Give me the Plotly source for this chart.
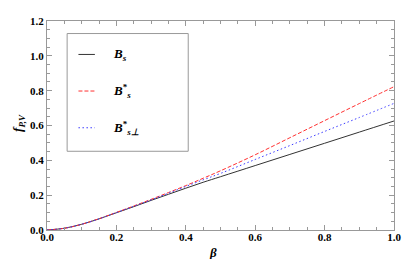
import plotly.graph_objects as go

beta = [0.0, 0.05, 0.1, 0.15, 0.2, 0.25, 0.3, 0.35, 0.4, 0.45, 0.5, 0.6, 0.7, 0.8, 0.9, 1.0]
f_Bs = [0.0, 0.010, 0.033, 0.064, 0.099, 0.134, 0.170, 0.205, 0.240, 0.274, 0.306, 0.370, 0.434, 0.498, 0.562, 0.626]
f_Bs_star = [0.0, 0.010, 0.033, 0.065, 0.101, 0.138, 0.176, 0.215, 0.255, 0.297, 0.340, 0.432, 0.530, 0.628, 0.726, 0.823]
f_Bs_perp = [0.0, 0.010, 0.033, 0.064, 0.100, 0.136, 0.173, 0.211, 0.250, 0.288, 0.325, 0.405, 0.485, 0.566, 0.646, 0.727]

x_ticks = [0.0, 0.2, 0.4, 0.6, 0.8, 1.0]
y_ticks = [0.0, 0.2, 0.4, 0.6, 0.8, 1.0, 1.2]
legend_names = ["<i>B<sub>s</sub></i>", "<i>B</i><sup>*</sup><i><sub>s</sub></i>", "<i>B</i><sup>*</sup><i><sub>s\u22a5</sub></i>"]

SERIF = "Liberation Serif, Times New Roman, serif"
colors = ["#333333", "#ff3030", "#3a3aff"]
dashes = ["solid", "4px,2px", "1.5px,2.5px"]
series = [f_Bs, f_Bs_star, f_Bs_perp]

fig = go.Figure()
for ys, c, d in zip(series, colors, dashes):
    fig.add_trace(go.Scatter(x=beta, y=ys, mode="lines", line=dict(color=c, width=1, dash=d, shape="spline"),
                             showlegend=False, hoverinfo="skip"))

# manual legend
fig.add_shape(type="rect", xref="x", yref="y", x0=0.058, x1=0.407, y0=0.452, y1=1.128,
              line=dict(color="#999999", width=1), fillcolor="white", layer="above")
leg_y = [1.008, 0.798, 0.587]
for ly, c, d, name in zip(leg_y, colors, dashes, legend_names):
    fig.add_shape(type="line", xref="x", yref="y", x0=0.0906, x1=0.138, y0=ly, y1=ly,
                  line=dict(color=c, width=1, dash=d), layer="above")
    fig.add_annotation(x=0.185, y=ly, xref="x", yref="y", text="<b>" + name + "</b>", showarrow=False,
                       xanchor="left", yanchor="middle",
                       font=dict(family=SERIF, size=13, color="black"))

# axis titles
fig.add_annotation(x=0.478, y=-0.11, xref="paper", yref="paper", text="<b><i>\u03b2</i></b>",
                   showarrow=False, xanchor="center", yanchor="middle",
                   font=dict(family=SERIF, size=13, color="black"))
fig.add_annotation(x=-0.082, y=0.51, xref="paper", yref="paper", text="<b><i>f<sub>P,V</sub></i></b>",
                   showarrow=False, xanchor="center", yanchor="middle", textangle=-90,
                   font=dict(family=SERIF, size=13, color="black"))

axis_common = dict(showline=True, linecolor="#999999", linewidth=1, mirror="ticks",
                   ticks="inside", ticklen=5, tickcolor="#999999", showgrid=False, zeroline=False,
                   tickfont=dict(family=SERIF, size=11, color="black"))

fig.update_xaxes(range=[0, 1.0], tickvals=x_ticks, ticktext=["<b>%.1f</b>" % v for v in x_ticks],
                 minor=dict(dtick=0.05, ticks="inside", ticklen=3, tickcolor="#999999"),
                 ticklabelstandoff=-3, **axis_common)
fig.update_yaxes(range=[0, 1.2], tickvals=y_ticks, ticktext=["<b>%.1f</b>" % v for v in y_ticks],
                 minor=dict(dtick=0.05, ticks="inside", ticklen=3, tickcolor="#999999"),
                 **axis_common)

fig.update_layout(width=415, height=259, margin=dict(l=39, r=29, t=7, b=37),
                  plot_bgcolor="white", paper_bgcolor="white")

fig.write_html("out.html")
